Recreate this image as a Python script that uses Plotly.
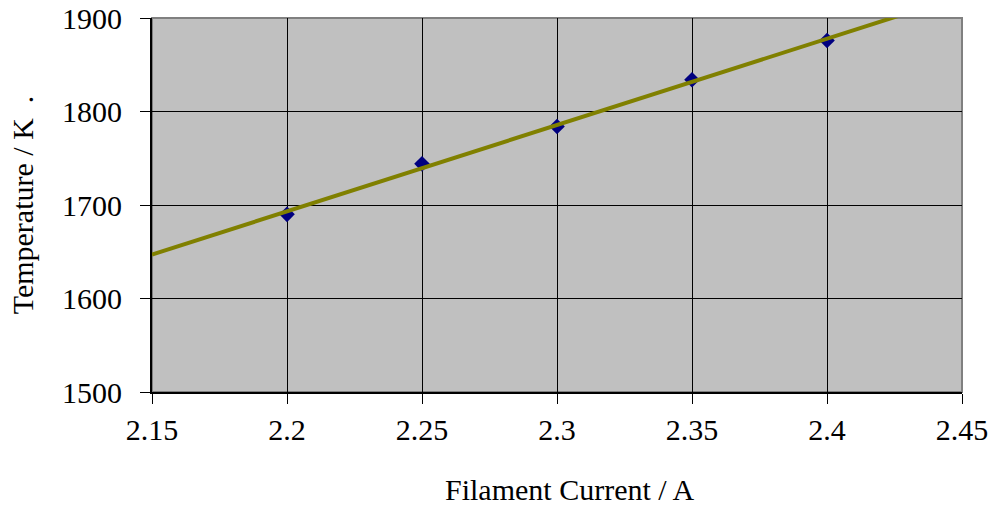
import plotly.graph_objects as go

current = [2.2, 2.25, 2.3, 2.35, 2.4]
temperature = [1690, 1744, 1784, 1834, 1876]
trend_x = [2.15, 2.45]
trend_y = [1647, 1924]
x_ticks = [2.15, 2.2, 2.25, 2.3, 2.35, 2.4, 2.45]
y_ticks = [1500, 1600, 1700, 1800, 1900]

font = "Liberation Serif, Times New Roman, serif"

fig = go.Figure()
fig.add_trace(go.Scatter(x=current, y=temperature, mode="markers",
                         marker=dict(symbol="diamond", size=12, color="#000080"),
                         showlegend=False, cliponaxis=False))
fig.add_trace(go.Scatter(x=trend_x, y=trend_y, mode="lines",
                         line=dict(color="#808000", width=4),
                         showlegend=False))

fig.update_layout(
    template="none",
    width=991, height=508,
    margin=dict(l=152, r=29, t=18, b=116),
    paper_bgcolor="white", plot_bgcolor="#C0C0C0",
    font=dict(family=font, size=30, color="black"),
    xaxis=dict(range=[2.15, 2.45], tickvals=x_ticks,
               ticktext=[f"{v:g}" for v in x_ticks],
               automargin=False,
               showgrid=True, gridcolor="black", gridwidth=1,
               ticks="outside", ticklen=10, tickcolor="black", tickwidth=1,
               showline=True, linecolor="black", linewidth=2,
               mirror=False, zeroline=False),
    yaxis=dict(range=[1500, 1900], tickvals=y_ticks,
               automargin=False,
               showgrid=True, gridcolor="black", gridwidth=1,
               ticks="outside", ticklen=10, tickcolor="black", tickwidth=1,
               ticklabelstandoff=12,
               showline=True, linecolor="black", linewidth=2,
               zeroline=False,
               title=dict(text="Temperature / K  .", standoff=20,
                          font=dict(size=30))),
)
fig.add_annotation(text="Filament Current / A", xref="paper", yref="paper",
                   x=0.515, y=-0.262, xanchor="center", yanchor="middle",
                   showarrow=False, font=dict(size=30))
fig.add_shape(type="rect", xref="paper", yref="paper", x0=0, y0=0, x1=1, y1=1,
              line=dict(color="#808080", width=2), layer="below")

fig.write_html("out.html", config={"displayModeBar": False},
               post_script="document.body.style.margin='0';document.body.style.overflow='hidden';")
